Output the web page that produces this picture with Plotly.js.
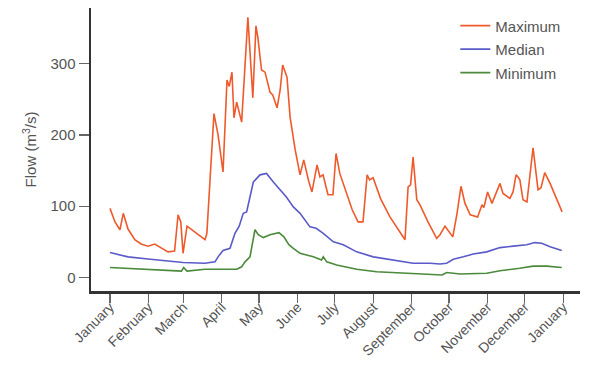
<!DOCTYPE html>
<html>
<head>
<meta charset="utf-8">
<script src="https://cdn.plot.ly/plotly-3.0.1.min.js"></script>
<style>html,body{margin:0;padding:0;background:#fff;}#chart{width:589px;height:365px;}</style>
</head>
<body>
<div id="chart"></div>
<script>
// Day of year (0 = 1 January) and flow in m³/s
const maxDays = [0,4,8,10.7,14.5,20,25,30.6,36,41,46.7,52,54.8,57,58.8,62,70,76.5,78,83.7,87,91,94.2,96,98.2,99.8,102,106,111,113,115,117.5,119,122,124.8,128.8,131,134.5,137,139,142.5,145,149,153,156,160,162.6,166.7,169,171.5,175.5,179.5,182,185,190,195,199.7,203.7,207,209,211.8,218,225.4,232,237.5,240,242,244,247,249.6,256,263,265.7,269.7,272,276,279.4,282.6,285.8,290,296,299.5,301,304,307.5,314,316.4,322,324.5,326.9,328.5,330,332.5,335.7,340.6,344.6,347,350,354.3,364];
const maxVals = [97,78,67,90,68,53,47,44,47,42,36,37,88,78,34,72,61,53,62,230,200,148,277,268,288,224,246,218,365,300,252,353,337,291,288,260,256,238,263,298,281,225,180,144,165,135,120,158,141,144,116,116,174,146,120,95,78,78,144,137,140,110,85,68,53,127,130,169,109,102,78,55,60,72,67,57,90,128,104,88,85,102,98,120,104,132,118,111,120,144,141,137,109,106,182,123,126,147,132,92];

const medDays = [0,14.5,30.6,50,58.8,76.5,84.5,87,91,96.6,100.6,104,107.3,110,115.4,120.8,126,131.5,139.5,142,147.6,153,161,166,171.7,179.8,187.8,198.6,212,225.4,244,257.6,265.7,271,276.4,284.5,292.5,303.3,314,324.7,335.5,342,347.6,354.3,363.7];
const medVals = [35,29,26,22,21,20,22,29,38,41,62,72,90,92,134,144,146,134,118,113,99,90,71,69,62,50,46,36,29,25,20,20,19,20,25.5,29,33,36,42,44,46,49,48,43,38];

const minDays = [0,41.6,53.7,57.5,59.3,62,76.5,92,102,106,108.7,112.7,116.7,119.4,123.4,128.8,133.8,136,140,144,147.6,153,163.7,170.3,171.7,174.5,182.5,198.6,214.7,233.8,252,267.4,271,281.8,303.3,314,330,340.7,351.5,363.7];
const minVals = [14,10.5,9,9,14,9,11.5,11.5,11.5,15,22,29,67,60,56,60,62,63,57,46,41,34,29,24.5,29,22,17.5,11.5,8,6,5,3.5,7,5,6,9.5,13,16,16,14];

const monthDays = [0,31,59,90,120,151,181,212,243,273,304,334,365];
const monthLabels = ["January","February","March","April","May","June","July","August","September","October","November","December","January"];
const yTicks = [0,100,200,300];
const seriesNames = ["Maximum","Median","Minimum"];

const font = "'Liberation Sans', Arial, sans-serif";
const traces = [
  {x: maxDays, y: maxVals, name: seriesNames[0], legendgroup: "a", line: {color: "#ef5a2c", width: 1.6}},
  {x: medDays, y: medVals, name: seriesNames[1], legendgroup: "b", line: {color: "#5a5ac8", width: 1.6}},
  {x: minDays, y: minVals, name: seriesNames[2], legendgroup: "c", line: {color: "#4a8a3a", width: 1.6}}
].map(t => Object.assign({type: "scatter", mode: "lines", hoverinfo: "skip"}, t));

const layout = {
  width: 589, height: 365,
  margin: {l: 91, r: 9, t: 8, b: 74, pad: 0},
  paper_bgcolor: "#fff", plot_bgcolor: "#fff",
  font: {family: font, size: 15, color: "#555"},
  showlegend: true,
  legend: {x: 0.745, y: 0.995, xanchor: "left", yanchor: "top", bgcolor: "rgba(0,0,0,0)",
           font: {family: font, size: 15, color: "#555"}, tracegroupgap: 1},
  xaxis: {
    range: [-15.3, 378.4], tickmode: "array", tickvals: monthDays, ticktext: monthLabels,
    tickangle: -45, ticks: "outside", ticklen: 9, tickwidth: 1.2, tickcolor: "#666",
    ticklabelstandoff: -9,
    showline: true, linecolor: "#333", linewidth: 2.5, showgrid: false, zeroline: false,
    tickfont: {family: font, size: 14, color: "#555"}
  },
  yaxis: {
    range: [-18.9, 378], tickmode: "array", tickvals: yTicks,
    ticks: "outside", ticklen: 10, tickwidth: 1.2, tickcolor: "#666",
    showline: true, linecolor: "#333", linewidth: 2.5, showgrid: false, zeroline: false,
    tickfont: {family: font, size: 15, color: "#555"},
    title: {text: "Flow (m<sup>3</sup>/s)", standoff: 10, font: {family: font, size: 15, color: "#555"}}
  }
};

Plotly.newPlot("chart", traces, layout, {staticPlot: true, displayModeBar: false});
</script>
</body>
</html>
